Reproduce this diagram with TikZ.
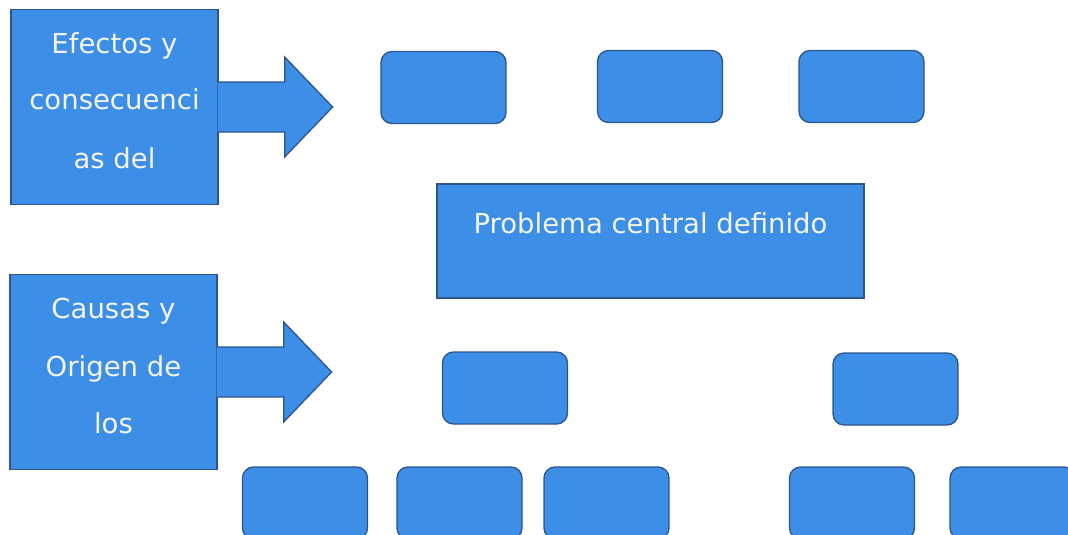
\documentclass[tikz,border=0pt]{standalone}
\usepackage{fontspec}
\setmainfont{DejaVu Sans}
\usetikzlibrary{calc}
\definecolor{boxblue}{RGB}{60,142,230}
\definecolor{edgeblue}{RGB}{45,85,140}
\definecolor{txtcol}{RGB}{244,244,230}
\begin{document}
\begin{tikzpicture}[x=1pt,y=-1pt,
  sq/.style={rectangle, draw=edgeblue, line width=1.3pt, fill=boxblue, inner sep=0pt},
  rbox/.style={sq, rounded corners=11pt, minimum width=125pt, minimum height=72pt},
  sidebox/.style={sq, minimum width=207pt, minimum height=195pt},
  bigbox/.style={sq, minimum width=427pt, minimum height=114pt},
  txt/.style={text=txtcol, inner sep=0pt, anchor=base, font=\fontsize{27.5pt}{33pt}\selectfont},
  arrowedge/.style={draw=edgeblue, line width=1.3pt, line join=miter}]
\useasboundingbox (0,0) rectangle (1068,535);
\clip (0,0) rectangle (1068,535);

% side boxes
\node[sidebox] (efectos) at (114.5,107) {};
\node[sidebox] (causas) at (113.5,372) {};

% block arrows
\foreach \src in {efectos,causas}{
  \begin{scope}[shift={(\src.east)}]
    \fill[boxblue] (-1,-25) -- (66,-25) -- (66,-50) -- (114,0) -- (66,50) -- (66,25) -- (-1,25) -- cycle;
    \draw[arrowedge] (0,-25) -- (66,-25) -- (66,-50) -- (114,0) -- (66,50) -- (66,25) -- (0,25);
  \end{scope}
}

% side box texts
\node[txt] (ef1) at ($(efectos.center)+(0,-54)$) {Efectos y};
\node[txt] (ef2) at ($(efectos.center)+(0,3)$) {consecuenci};
\node[txt] (ef3) at ($(efectos.center)+(0,61)$) {as del};
\node[txt] (ca1) at ($(causas.center)+(0,-54)$) {Causas y};
\node[txt] (ca2) at ($(causas.center)+(0,4)$) {Origen de};
\node[txt] (ca3) at ($(causas.center)+(0,61)$) {los};

% top row
\node[rbox] (e1) at (443.5,87.5) {};
\node[rbox] (e2) at (660,86.5) {};
\node[rbox] (e3) at (861.5,86.5) {};

% central problem
\node[bigbox] (central) at (650.5,241) {};
\node[txt] (centraltxt) at ($(central.center)+(0,-8)$) {Problema central definido};

% middle row
\node[rbox] (c1) at (505,388) {};
\node[rbox] (c2) at (895.5,389) {};

% bottom row
\node[rbox] (b1) at (305,503) {};
\node[rbox] (b2) at (459.5,503) {};
\node[rbox] (b3) at (606.5,503) {};
\node[rbox] (b4) at (852,503) {};
\node[rbox] (b5) at (1012.5,503) {};
\end{tikzpicture}
\end{document}
